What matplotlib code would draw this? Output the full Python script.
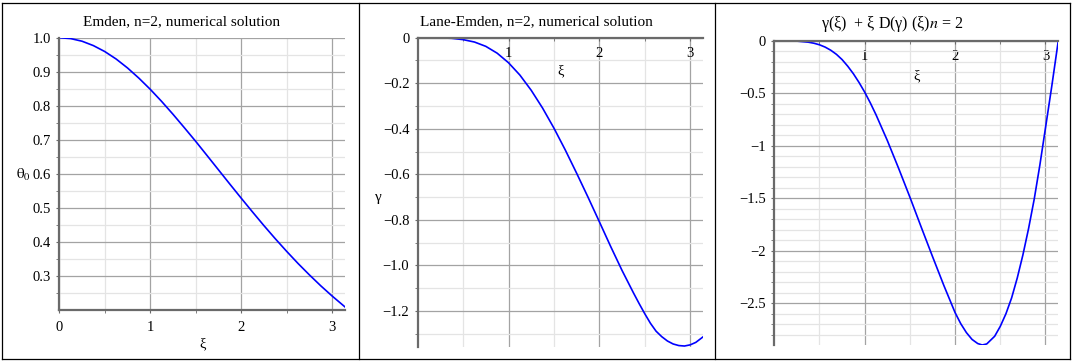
import matplotlib
matplotlib.use('Agg')
from matplotlib import pyplot as plt
from matplotlib.lines import Line2D

# values
xi_theta = [0, 0.125, 0.25, 0.375, 0.5, 0.625, 0.75, 0.875, 1.0, 1.125, 1.25, 1.375, 1.5,
            1.625, 1.75, 1.875, 2.0, 2.125, 2.25, 2.375, 2.5, 2.625, 2.75, 2.875, 3.0, 3.1416]
theta0 = [1.0, 0.9974, 0.9897, 0.9768, 0.9594, 0.9375, 0.9113, 0.8814, 0.8487, 0.8132, 0.7755,
          0.7361, 0.6960, 0.6544, 0.6126, 0.5708, 0.5295, 0.4889, 0.4490, 0.4105, 0.3735,
          0.3380, 0.3045, 0.2725, 0.2425, 0.2105]

xi_gamma = [0, 0.125, 0.25, 0.375, 0.5, 0.625, 0.75, 0.875, 1.0, 1.125, 1.25, 1.375, 1.5,
            1.625, 1.75, 1.875, 2.0, 2.125, 2.25, 2.375, 2.4375, 2.5, 2.5625, 2.625, 2.6875,
            2.75, 2.8125, 2.875, 2.9375, 3.0, 3.0625, 3.1416]
gamma = [0, -0.0001, -0.0008, -0.0027, -0.0085, -0.019, -0.038, -0.068, -0.110, -0.164, -0.231,
         -0.309, -0.397, -0.493, -0.595, -0.700, -0.808, -0.917, -1.022, -1.120, -1.167,
         -1.212, -1.254, -1.289, -1.313, -1.332, -1.345, -1.352, -1.354, -1.349, -1.338, -1.314]

xi_dgamma = [0, 0.125, 0.25, 0.375, 0.4375, 0.5, 0.5625, 0.625, 0.6875, 0.75, 0.8125, 0.875,
             0.9375, 1.0, 1.0625, 1.125, 1.25, 1.375, 1.5, 1.625, 1.75, 1.875, 2.0, 2.0625,
             2.125, 2.1875, 2.25, 2.3, 2.35, 2.4375, 2.5, 2.5625, 2.625, 2.6875, 2.75, 2.8125,
             2.875, 2.9375, 3.0, 3.07, 3.1416]
dgamma = [0, -0.0005, -0.004, -0.014, -0.024, -0.039, -0.061, -0.091, -0.130, -0.180, -0.243,
          -0.315, -0.398, -0.490, -0.593, -0.705, -0.950, -1.215, -1.490, -1.775, -2.055,
          -2.330, -2.590, -2.695, -2.780, -2.845, -2.884, -2.898, -2.888, -2.815, -2.720,
          -2.600, -2.450, -2.260, -2.040, -1.790, -1.510, -1.185, -0.830, -0.430, 0.0]

theta_ticks = [0.3, 0.4, 0.5, 0.6, 0.7, 0.8, 0.9, 1.0]
gamma_ticks = [0, -0.2, -0.4, -0.6, -0.8, -1.0, -1.2]
dgamma_ticks = [0, -0.5, -1, -1.5, -2, -2.5]

W, H = 1075, 362
plt.rcParams['font.family'] = ['Liberation Serif', 'DejaVu Serif']
plt.rcParams['mathtext.fontset'] = 'stix'
plt.rcParams['font.size'] = 10


def add_ax(fig, l, t, r, b):
    return fig.add_axes([l / W, 1 - b / H, (r - l) / W, (b - t) / H])


def style(ax, xmin_tick):
    ax.set_axisbelow(True)
    for s in ['top', 'right']:
        ax.spines[s].set_visible(False)
    for s in ['left', 'bottom']:
        ax.spines[s].set_color('#6a6a6a')
        ax.spines[s].set_linewidth(1.6)
    ax.grid(which='major', color='#a3a3a3', lw=0.9)
    ax.grid(which='minor', color='#e4e4e4', lw=0.9)
    ax.tick_params(which='both', color='#6a6a6a', direction='out')
    ax.tick_params(which='major', length=2, pad=4, labelsize=10.5)
    ax.tick_params(which='minor', length=2)
    ax.set_xticks(xmin_tick)
    ax.set_xticks([0.5, 1.5, 2.5], minor=True)
    ax.set_xlim(0, 3.1416)


fig = plt.figure(figsize=(W / 100, H / 100), dpi=100)

# panel 1
ax1 = add_ax(fig, 59.3, 37.7, 345, 310)
style(ax1, [0, 1, 2, 3])
ax1.plot(xi_theta, theta0, color='#0000ff', lw=1.2)
ax1.set_ylim(0.2015, 1.0)
ax1.set_yticks(theta_ticks)
ax1.set_yticklabels(['%.1f' % v for v in theta_ticks])
ax1.set_yticks([0.25, 0.35, 0.45, 0.55, 0.65, 0.75, 0.85, 0.95], minor=True)
ax1.tick_params(axis='x', pad=6)
ax1.set_xlabel('ξ', fontsize=10.5, labelpad=2)
fig.text(181.7 / W, 1 - 21.7 / H, 'Emden, n=2, numerical solution', ha='center', va='center', fontsize=11)
fig.text(23 / W, 1 - 175 / H, r'$\mathrm{\theta}_{\mathit{0}}$', ha='center', va='center', fontsize=11)

# panel 2
ax2 = add_ax(fig, 417.7, 37.7, 703, 346.7)
style(ax2, [1, 2, 3])
ax2.plot(xi_gamma, gamma, color='#0000ff', lw=1.2)
ax2.set_ylim(-1.357, 0)
ax2.spines['bottom'].set_position(('data', 0))
ax2.set_yticks(gamma_ticks)
ax2.set_yticklabels(['0'] + ['\u2212%.1f' % -v for v in gamma_ticks[1:]])
ax2.set_yticks([-0.1, -0.3, -0.5, -0.7, -0.9, -1.1, -1.3], minor=True)
ax2.tick_params(axis='x', pad=5)
ax2.set_xlabel('ξ', fontsize=10.5, labelpad=3)
fig.text(536.7 / W, 1 - 21.7 / H, 'Lane-Emden, n=2, numerical solution', ha='center', va='center', fontsize=11)
fig.text(378 / W, 1 - 197 / H, 'γ', ha='center', va='center', fontsize=11)

# panel 3
ax3 = add_ax(fig, 774.3, 40.7, 1058.3, 345)
style(ax3, [1, 2, 3])
ax3.plot(xi_dgamma, dgamma, color='#0000ff', lw=1.2)
ax3.set_ylim(-2.898, 0)
ax3.spines['bottom'].set_position(('data', 0))
ax3.set_yticks(dgamma_ticks)
ax3.set_yticklabels(['0', '\u22120.5', '\u22121', '\u22121.5', '\u22122', '\u22122.5'])
ax3.set_yticks([-0.1 * k for k in range(1, 29) if k % 5], minor=True)
ax3.tick_params(axis='x', pad=5)
ax3.set_xlabel('ξ', fontsize=10.5, labelpad=4)
fig.text(892.5 / W, 1 - 24 / H, 'γ(ξ)  + ξ D(γ) (ξ)$n$ = 2', ha='center', va='center', fontsize=11.5)

# table borders
for x in [1.5, 358.5, 715, 1069.5]:
    fig.add_artist(Line2D([x / W, x / W], [1 - 2.5 / H, 1 - 358.5 / H], color='black', lw=0.9))
for y in [2.5, 358.5]:
    fig.add_artist(Line2D([1.5 / W, 1069.5 / W], [1 - y / H, 1 - y / H], color='black', lw=0.9))

fig.savefig('out.png', dpi=100)
